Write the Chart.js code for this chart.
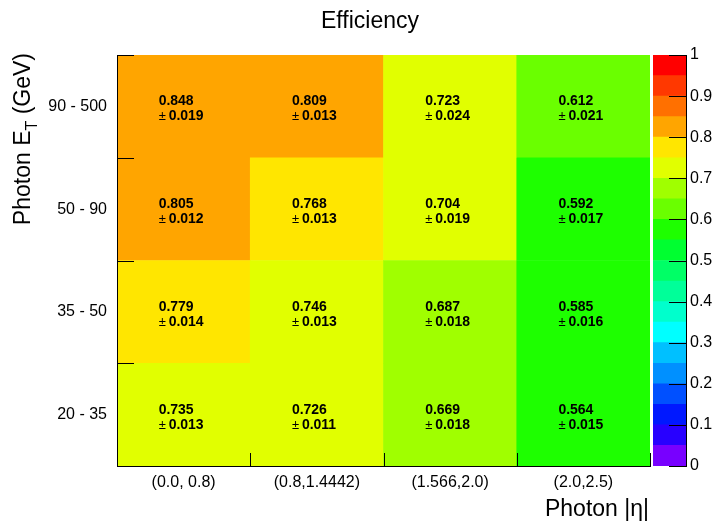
<!DOCTYPE html>
<html lang="en">
<head>
    <meta charset="UTF-8">
    <title>Efficiency</title>
    <script src="https://cdn.jsdelivr.net/npm/chart.js@4.4.1/dist/chart.umd.min.js"></script>
    <style>
        body { margin: 0; background: #fff; }
        #wrap { position: relative; width: 713px; height: 522px; }
        #wrap canvas { position: absolute; left: 0; top: 0; }
    </style>
</head>
<body>
<div id="wrap">
    <canvas id="chart" width="713" height="522"></canvas>
    <canvas id="palette" width="713" height="522"></canvas>
</div>

<script>
    // photon |eta| bins (x) and E_T bins (y, bottom to top)
    const etaBins = ['(0.0, 0.8)', '(0.8,1.4442)', '(1.566,2.0)', '(2.0,2.5)']
    const etBins = ['20 - 35', '35 - 50', '50 - 90', '90 - 500']

    // efficiency per E_T row, one value per eta bin
    const eff = [
        [0.735, 0.726, 0.669, 0.564],
        [0.779, 0.746, 0.687, 0.585],
        [0.805, 0.768, 0.704, 0.592],
        [0.848, 0.809, 0.723, 0.612]
    ]
    const err = [
        [0.013, 0.011, 0.018, 0.015],
        [0.014, 0.013, 0.018, 0.016],
        [0.012, 0.013, 0.019, 0.017],
        [0.019, 0.013, 0.024, 0.021]
    ]

    // colour palette, z from 0 to 1
    const zMin = 0
    const zMax = 1
    const paletteColors = [
        '#7800ff', '#2800ff', '#0018ff', '#0050ff', '#0090ff',
        '#00c0ff', '#00ffff', '#00ffcc', '#00ff99', '#00ff66',
        '#00ff30', '#1eff00', '#6aff00', '#a0ff00', '#e1ff00',
        '#ffe600', '#ffa500', '#ff7000', '#ff3800', '#ff0000'
    ]
    const zStep = (zMax - zMin) / paletteColors.length

    Chart.defaults.font.family = '"Liberation Sans", Arial, Helvetica, sans-serif'
    Chart.defaults.color = '#000'

    function zColor(v) {
        const k = Math.floor((v - zMin) / zStep)
        return paletteColors[Math.max(0, Math.min(paletteColors.length - 1, k))]
    }

    const FONT = '"Liberation Sans", Arial, Helvetica, sans-serif'

    // numbers written in each cell
    const cellText = {
        id: 'cellText',
        afterDatasetsDraw(chart) {
            const ctx = chart.ctx
            ctx.save()
            ctx.fillStyle = '#000'
            ctx.textAlign = 'left'
            ctx.textBaseline = 'alphabetic'
            chart.data.datasets.forEach((ds, i) => {
                chart.getDatasetMeta(i).data.forEach((bar, j) => {
                    const yc = (bar.y + bar.base) / 2
                    const x = bar.x - 25
                    ctx.font = 'bold 14px ' + FONT
                    ctx.fillText(eff[i][j].toFixed(3), x, yc - 1)
                    ctx.fillText(err[i][j].toFixed(3), x + 10, yc + 14)
                    ctx.font = '13px ' + FONT
                    ctx.fillText('±', x, yc + 14)
                })
            })
            ctx.restore()
        }
    }

    // ROOT style ticks pointing into the frame, plus titles
    const frameDecor = {
        id: 'frameDecor',
        afterDraw(chart) {
            const ctx = chart.ctx
            const a = chart.chartArea
            const xs = chart.scales.x
            const ys = chart.scales.y
            ctx.save()
            ctx.strokeStyle = '#000'
            ctx.lineWidth = 1
            ctx.beginPath()
            for (let v = 0; v <= etBins.length; v++) {
                const py = Math.round(ys.getPixelForValue(v)) + 0.5
                ctx.moveTo(a.left, py)
                ctx.lineTo(a.left + 17, py)
            }
            for (let j = 0; j <= etaBins.length; j++) {
                const px = Math.round(xs.getPixelForValue(j - 0.5)) + 0.5
                ctx.moveTo(px, a.bottom)
                ctx.lineTo(px, a.bottom - 13)
            }
            ctx.stroke()

            ctx.fillStyle = '#000'
            ctx.textBaseline = 'alphabetic'

            // main title
            ctx.font = '23px ' + FONT
            ctx.textAlign = 'center'
            ctx.fillText('Efficiency', 370, 28)

            // x title, right aligned to the frame
            ctx.textAlign = 'right'
            ctx.fillText('Photon |η|', a.right - 1, 516)

            // y title, rotated, ending at the top of the frame
            const main = '23px ' + FONT
            const sub = '16px ' + FONT
            ctx.font = main
            const w1 = ctx.measureText('Photon E').width
            const w3 = ctx.measureText(' (GeV)').width
            ctx.font = sub
            const w2 = ctx.measureText('T').width
            ctx.translate(30, a.top - 2)
            ctx.rotate(-Math.PI / 2)
            ctx.textAlign = 'left'
            let x0 = -(w1 + w2 + w3)
            ctx.font = main
            ctx.fillText('Photon E', x0, 0)
            ctx.font = sub
            ctx.fillText('T', x0 + w1, 7)
            ctx.font = main
            ctx.fillText(' (GeV)', x0 + w1 + w2, 0)
            ctx.restore()
        }
    }

    new Chart(document.getElementById('chart'), {
        type: 'bar',
        data: {
            labels: etaBins,
            datasets: etBins.map((et, i) => ({
                label: et,
                data: etaBins.map(() => [i, i + 1]),
                backgroundColor: eff[i].map(zColor),
                borderWidth: 0,
                grouped: false,
                barPercentage: 1,
                categoryPercentage: 1
            }))
        },
        options: {
            responsive: false,
            animation: false,
            events: [],
            layout: { padding: { top: 55, right: 63, left: 0, bottom: 0 } },
            plugins: {
                legend: { display: false },
                tooltip: { enabled: false },
                title: { display: false }
            },
            scales: {
                x: {
                    type: 'category',
                    grid: { display: false, drawTicks: false },
                    border: { display: true, color: '#000', width: 1, z: 1 },
                    ticks: { font: { size: 16 }, padding: 7, maxRotation: 0, autoSkip: false },
                    afterFit: s => { s.height = 56 }
                },
                y: {
                    min: 0,
                    max: etBins.length,
                    grid: { display: false, drawTicks: false },
                    border: { display: true, color: '#000', width: 1, z: 1 },
                    ticks: {
                        stepSize: 0.5,
                        autoSkip: false,
                        font: { size: 16 },
                        padding: 10,
                        callback: v => (v % 1 === 0.5 ? etBins[Math.floor(v)] : '')
                    },
                    afterFit: s => { s.width = 117 }
                }
            }
        },
        plugins: [cellText, frameDecor]
    })

    // colour scale on the right
    const paletteTicks = {
        id: 'paletteTicks',
        afterDraw(chart) {
            const ctx = chart.ctx
            const a = chart.chartArea
            const ys = chart.scales.y
            ctx.save()
            ctx.strokeStyle = '#000'
            ctx.lineWidth = 1
            ctx.beginPath()
            ys.ticks.forEach(t => {
                const py = Math.round(ys.getPixelForValue(t.value)) + 0.5
                ctx.moveTo(a.right, py)
                ctx.lineTo(a.right - 17, py)
            })
            ctx.stroke()
            ctx.restore()
        }
    }

    new Chart(document.getElementById('palette'), {
        type: 'bar',
        data: {
            labels: ['z'],
            datasets: paletteColors.map((c, k) => ({
                data: [[zMin + k * zStep, zMin + (k + 1) * zStep]],
                backgroundColor: c,
                borderWidth: 0,
                grouped: false,
                barPercentage: 1,
                categoryPercentage: 1
            }))
        },
        options: {
            responsive: false,
            animation: false,
            events: [],
            layout: { padding: { left: 653, top: 55, bottom: 56, right: 0 } },
            plugins: {
                legend: { display: false },
                tooltip: { enabled: false }
            },
            scales: {
                x: { display: false },
                y: {
                    position: 'right',
                    min: zMin,
                    max: zMax,
                    grid: { display: false, drawTicks: false },
                    border: { display: true, color: '#000', width: 1, z: 1 },
                    ticks: {
                        stepSize: 0.1,
                        padding: 4,
                        font: { size: 16 },
                        callback: v => (v === 0 || v === 1 ? String(v) : v.toFixed(1))
                    },
                    afterFit: s => { s.width = 27 }
                }
            }
        },
        plugins: [paletteTicks]
    })
</script>
</body>
</html>
